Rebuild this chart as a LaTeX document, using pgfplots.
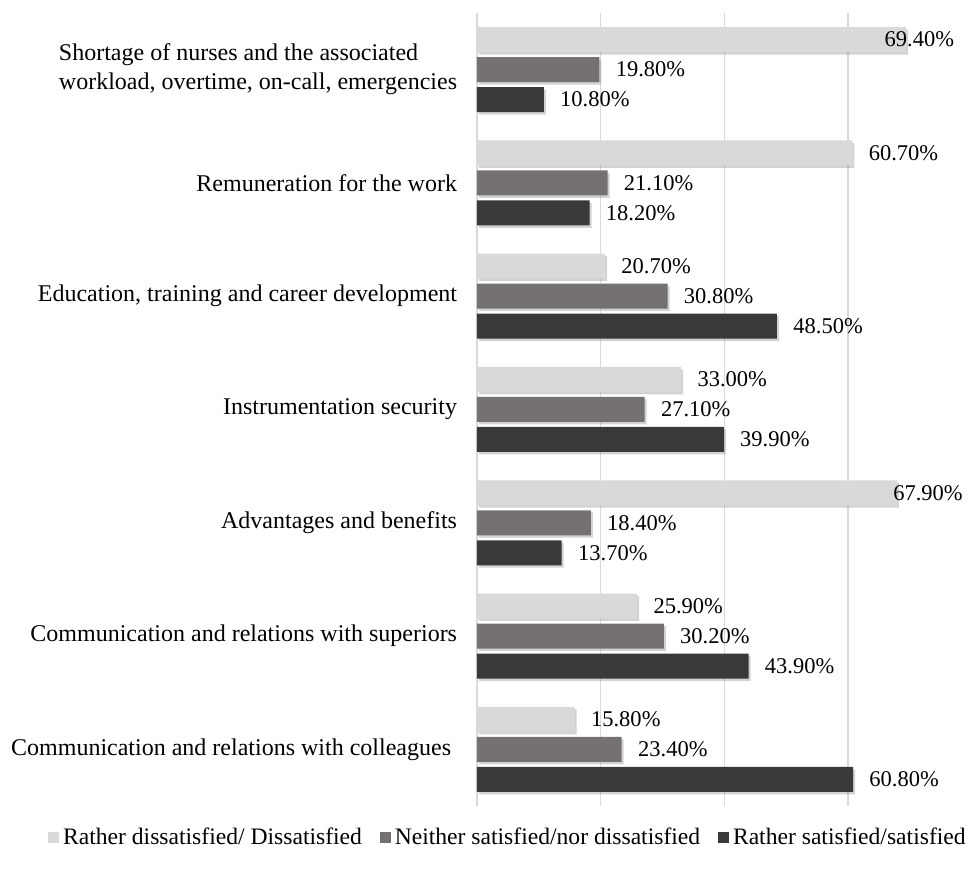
\documentclass[border=0pt]{standalone}
\usepackage{fontspec}
\setmainfont{Liberation Serif}
\usepackage{pgfplots}
\usepackage{pgfplotstable}
\pgfplotsset{compat=1.18}
\usetikzlibrary{shadows}

\definecolor{lightbar}{HTML}{D9D9D9}
\definecolor{midbar}{HTML}{767171}
\definecolor{darkbar}{HTML}{3B3838}
\definecolor{gridgray}{HTML}{D9D9D9}

% y: 6 = top category, 0 = bottom; dx = label offset (pt)
\pgfplotstableread{
y x dx
6 69.4 -11
5 60.7 8
4 20.7 8
3 33.0 8
2 67.9 -2
1 25.9 8
0 15.8 8
}\dissat
\pgfplotstableread{
y x dx
6 19.8 8
5 21.1 8
4 30.8 8
3 27.1 8
2 18.4 8
1 30.2 8
0 23.4 8
}\neither
\pgfplotstableread{
y x dx
6 10.8 8
5 18.2 8
4 48.5 8
3 39.9 8
2 13.7 8
1 43.9 8
0 60.8 8
}\sat

\begin{document}
\begin{tikzpicture}
\begin{axis}[
    name=ax,
    scale only axis,
    width=250pt, height=396.5pt,
    xbar, bar width=12.5pt,
    xmin=0, xmax=80.84,
    ymin=-0.5, ymax=6.5,
    axis line style={draw=none},
    tick style={draw=none},
    xtick={0,20,40,60}, xticklabels={},
    xmajorgrids, grid style={color=gridgray, line width=0.75pt},
    ytick={0,...,6},
    yticklabels={
        Communication and relations with colleagues\hspace*{3pt},
        Communication and relations with superiors,
        Advantages and benefits,
        Instrumentation security,
        {Education, training and career development},
        Remuneration for the work,
        {Shortage of nurses and the associated\\workload, overtime, on-call, emergencies}},
    yticklabel style={align=left, inner sep=0pt, xshift=-5.5pt,
        font=\fontsize{12}{14.5}\selectfont},
    nodes near coords={\pgfmathprintnumber[fixed,fixed zerofill,precision=2,assume math mode=true]{\pgfplotspointmeta}\%},
    visualization depends on={\thisrow{dx} \as \dx},
    every node near coord/.append style={anchor=west, inner sep=0pt,
        xshift=\dx pt, font=\fontsize{11.25}{13}\selectfont, text=black},
    legend columns=3,
    legend style={draw=none, font=\fontsize{11.8}{13}\selectfont,
        at={(0.064,-0.04)}, anchor=center,
        /tikz/every odd column/.append style={column sep=0pt},
        /tikz/every even column/.append style={column sep=7pt}},
]
\addplot[fill=lightbar, draw=none, bar shift=15pt,
    drop shadow={opacity=0.35, shadow xshift=1pt, shadow yshift=-1.2pt}, forget plot]
    table[x=x, y=y] {\dissat};
\addplot[fill=midbar, draw=none, bar shift=0pt,
    drop shadow={opacity=0.35, shadow xshift=1pt, shadow yshift=-1.2pt}, forget plot]
    table[x=x, y=y] {\neither};
\addplot[fill=darkbar, draw=none, bar shift=-15pt,
    drop shadow={opacity=0.35, shadow xshift=1pt, shadow yshift=-1.2pt}, forget plot]
    table[x=x, y=y] {\sat};

\addlegendimage{legend image code/.code={\fill[lightbar] (0pt,-2.5pt) rectangle (5pt,2.5pt);}}
\addlegendentry{Rather dissatisfied/ Dissatisfied}
\addlegendimage{legend image code/.code={\fill[midbar] (0pt,-2.5pt) rectangle (5pt,2.5pt);}}
\addlegendentry{Neither satisfied/nor dissatisfied}
\addlegendimage{legend image code/.code={\fill[darkbar] (0pt,-2.5pt) rectangle (5pt,2.5pt);}}
\addlegendentry{Rather satisfied/satisfied}
\end{axis}
\pgfresetboundingbox
\path ([shift={(-238.5pt,-37.5pt)}]ax.south west) rectangle ([shift={(0pt,6.5pt)}]ax.north east);
\end{tikzpicture}
\end{document}
